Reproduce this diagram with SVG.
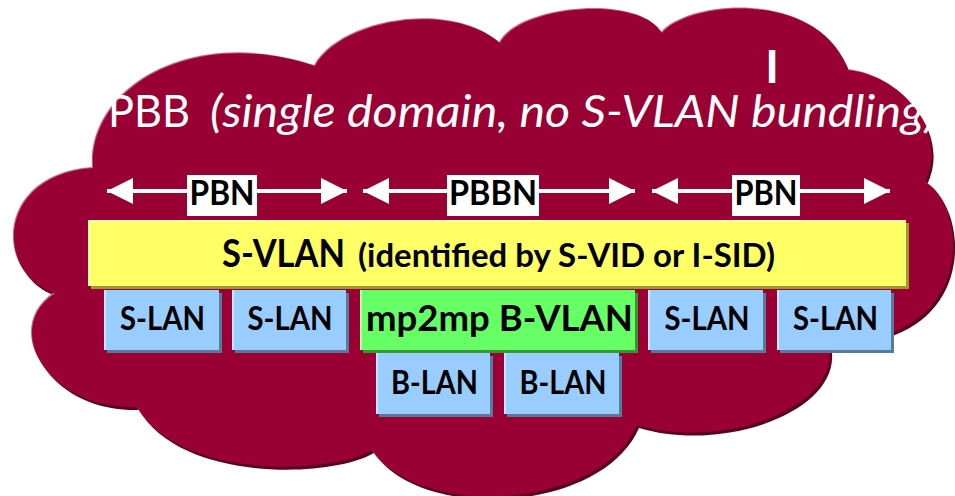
<svg xmlns="http://www.w3.org/2000/svg" width="955" height="496" viewBox="0 0 955 496">
<style>
.t{font-family:Lato,"Open Sans","DejaVu Sans",sans-serif;}
.w{fill:#ffffff;}
.b{fill:#000000;font-weight:bold;}
.lbl{fill:#ffffff;}
.conn{stroke:#ffffff;stroke-width:4;fill:none;marker-start:url(#ah);marker-end:url(#ah);}
.ydk{fill:#9a9a33;} .ylt{fill:#ffffb0;} .ymn{fill:#ffff66;}
.bdk{fill:#5a7a9a;} .blt{fill:#cce6ff;} .bmn{fill:#99ccff;}
.gdk{fill:#339933;} .glt{fill:#b3ffb3;} .gmn{fill:#66ff66;}
</style>
<defs>
<path id="cloudPath" d="M93,168 C88,90 190,25 315,66 C340,20 450,0 500,43 C520,5 640,-5 662,33 C690,0 820,-10 848,70 C900,75 950,130 925,182 C960,200 975,300 893,332 L830,350 C835,410 720,450 637,425 C600,510 420,520 372,450 C330,475 180,480 137,407 C50,410 0,330 55,293 C-5,275 -5,175 93,168 Z"/>
<marker id="ah" viewBox="0 0 26 26" markerWidth="26" markerHeight="26" refX="26" refY="13" orient="auto-start-reverse" markerUnits="userSpaceOnUse">
<path d="M0,0 L26,13 L0,26 Z" fill="#ffffff"/>
</marker>
</defs>

<g id="cloud">
<use href="#cloudPath" transform="translate(2,3)" fill="#5c0020"/>
<use href="#cloudPath" transform="translate(-1,-1)" fill="#c46a8a"/>
<use href="#cloudPath" fill="#990033"/>
</g>

<g id="title">
<text class="t w" x="108" y="127" font-size="44" textLength="82" lengthAdjust="spacingAndGlyphs">PBB</text>
<text class="t w" x="210" y="127" font-size="44" font-style="italic" textLength="727" lengthAdjust="spacingAndGlyphs">(single domain, no S-VLAN bundling)</text>
<text class="t w" x="772" y="83" font-size="46" font-weight="bold" text-anchor="middle">I</text>
</g>

<g id="connectors">
<line class="conn" x1="107" y1="191" x2="347" y2="191"/>
<line class="conn" x1="363" y1="191" x2="635" y2="191"/>
<line class="conn" x1="652" y1="191" x2="890" y2="191"/>
</g>

<g id="label-pbn-left">
<rect x="187" y="175" width="70" height="41" fill="#ffffff"/>
<text class="t b" x="222" y="205" font-size="35" text-anchor="middle" textLength="65" lengthAdjust="spacingAndGlyphs">PBN</text>
</g>
<g id="label-pbbn">
<rect x="447" y="175" width="92" height="41" fill="#ffffff"/>
<text class="t b" x="493" y="205" font-size="35" text-anchor="middle" textLength="88" lengthAdjust="spacingAndGlyphs">PBBN</text>
</g>
<g id="label-pbn-right">
<rect x="732" y="175" width="68" height="41" fill="#ffffff"/>
<text class="t b" x="766" y="205" font-size="35" text-anchor="middle" textLength="63" lengthAdjust="spacingAndGlyphs">PBN</text>
</g>

<g id="svlan">
<rect class="ydk" x="91" y="223" width="818" height="66"/>
<rect class="ylt" x="88" y="220" width="818" height="66"/>
<rect class="ymn" x="90" y="222" width="816" height="64"/>
<text class="t b" x="222" y="267" font-size="38" textLength="123" lengthAdjust="spacingAndGlyphs">S-VLAN</text>
<text class="t b" x="358" y="267" font-size="32" textLength="417" lengthAdjust="spacingAndGlyphs">(identified by S-VID or I-SID)</text>
</g>

<g id="slan1">
<rect class="bdk" x="107" y="293" width="115" height="60"/>
<rect class="blt" x="104" y="290" width="115" height="60"/>
<rect class="bmn" x="106" y="290" width="113" height="60"/>
<text class="t b" x="162.5" y="330" font-size="32" text-anchor="middle" textLength="85" lengthAdjust="spacingAndGlyphs">S-LAN</text>
</g>
<g id="slan2">
<rect class="bdk" x="235" y="293" width="114" height="60"/>
<rect class="blt" x="232" y="290" width="114" height="60"/>
<rect class="bmn" x="234" y="290" width="112" height="60"/>
<text class="t b" x="290" y="330" font-size="32" text-anchor="middle" textLength="85" lengthAdjust="spacingAndGlyphs">S-LAN</text>
</g>
<g id="bvlan">
<rect class="gdk" x="363" y="293" width="275" height="60"/>
<rect class="glt" x="360" y="290" width="275" height="60"/>
<rect class="gmn" x="362" y="290" width="273" height="60"/>
<text class="t b" x="499.5" y="331" font-size="37" text-anchor="middle" textLength="267" lengthAdjust="spacingAndGlyphs">mp2mp B-VLAN</text>
</g>
<g id="slan3">
<rect class="bdk" x="651" y="293" width="115" height="60"/>
<rect class="blt" x="648" y="290" width="115" height="60"/>
<rect class="bmn" x="650" y="290" width="113" height="60"/>
<text class="t b" x="707" y="330" font-size="32" text-anchor="middle" textLength="85" lengthAdjust="spacingAndGlyphs">S-LAN</text>
</g>
<g id="slan4">
<rect class="bdk" x="780" y="293" width="114" height="60"/>
<rect class="blt" x="777" y="290" width="114" height="60"/>
<rect class="bmn" x="779" y="290" width="112" height="60"/>
<text class="t b" x="835.5" y="330" font-size="32" text-anchor="middle" textLength="85" lengthAdjust="spacingAndGlyphs">S-LAN</text>
</g>
<g id="blan1">
<rect class="bdk" x="379" y="356" width="114" height="61"/>
<rect class="blt" x="376" y="353" width="114" height="61"/>
<rect class="bmn" x="378" y="353" width="112" height="61"/>
<text class="t b" x="434.5" y="394" font-size="33" text-anchor="middle" textLength="87" lengthAdjust="spacingAndGlyphs">B-LAN</text>
</g>
<g id="blan2">
<rect class="bdk" x="507" y="356" width="115" height="61"/>
<rect class="blt" x="504" y="353" width="115" height="61"/>
<rect class="bmn" x="506" y="353" width="113" height="61"/>
<text class="t b" x="563" y="394" font-size="33" text-anchor="middle" textLength="87" lengthAdjust="spacingAndGlyphs">B-LAN</text>
</g>
</svg>
